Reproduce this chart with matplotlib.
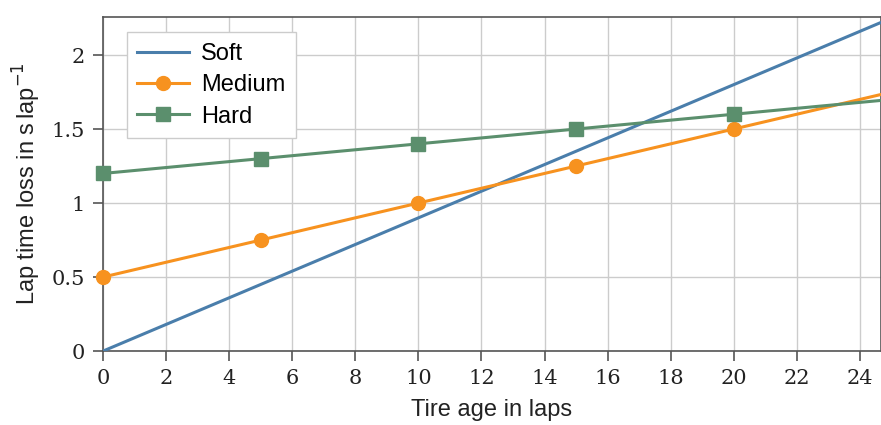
import numpy as np
import matplotlib.pyplot as plt

# tyre degradation per compound
soft_laps = [0, 25]
soft_loss = [0.0, 2.25]

medium_laps = [0, 5, 10, 15, 20, 25]
medium_loss = [0.5, 0.75, 1.0, 1.25, 1.5, 1.75]

hard_laps = [0, 5, 10, 15, 20, 25]
hard_loss = [1.2, 1.3, 1.4, 1.5, 1.6, 1.7]

x_ticks = list(range(0, 25, 2))
y_ticks = [0, 0.5, 1, 1.5, 2]
y_ticklabels = ["0", "0.5", "1", "1.5", "2"]

c_soft = "#4a7eab"
c_medium = "#f7921f"
c_hard = "#5b8f6d"
spine_c = "#555555"

fig = plt.figure(figsize=(8.81, 4.25), dpi=100)
ax = fig.add_axes([0.117, 0.174, 0.883, 0.786])

ax.plot(soft_laps, soft_loss, color=c_soft, lw=2.2, label="Soft", zorder=3)
ax.plot(medium_laps, medium_loss, color=c_medium, lw=2.2, marker="o",
        ms=10, label="Medium", zorder=3, clip_on=False)
ax.plot(hard_laps, hard_loss, color=c_hard, lw=2.2, marker="s",
        ms=10, label="Hard", zorder=3, clip_on=False)

ax.set_xlim(0, 24.67)
ax.set_ylim(0, 2.257)
ax.set_xticks(x_ticks)
ax.set_yticks(y_ticks)
ax.set_yticklabels(y_ticklabels)

ax.grid(True, color="#cccccc", lw=1)
ax.set_axisbelow(True)

for side in ["left", "bottom", "top", "right"]:
    ax.spines[side].set_color(spine_c)
    ax.spines[side].set_linewidth(1.2)

ax.tick_params(direction="out", length=7, width=1.2, color=spine_c,
               labelsize=15, pad=6, labelcolor="#222222")
for lbl in ax.get_xticklabels() + ax.get_yticklabels():
    lbl.set_family("DejaVu Serif")

ax.set_xlabel("Tire age in laps", fontsize=17, family="Liberation Sans",
              color="#222222", labelpad=8)
ax.set_ylabel(r"Lap time loss in s$\,$lap$^{-1}$", fontsize=17,
              family="Liberation Sans", color="#222222", labelpad=6)

leg = ax.legend(loc="upper left", bbox_to_anchor=(0.015, 0.99),
                prop={"family": "Liberation Sans", "size": 17},
                frameon=True, fancybox=False, edgecolor="#cccccc",
                framealpha=1, handlelength=2.2, borderpad=0.45,
                labelspacing=0.4, handletextpad=0.5)
leg.get_frame().set_linewidth(1)

fig.savefig("out.png", dpi=100)
